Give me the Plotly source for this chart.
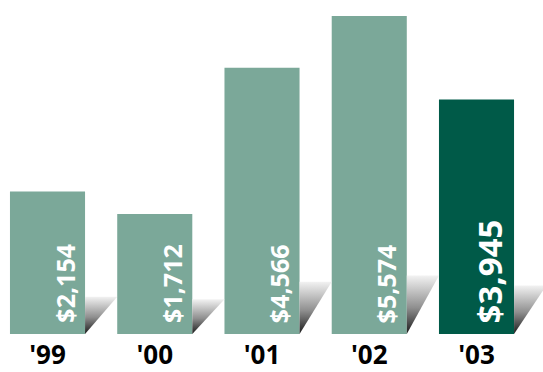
import plotly.graph_objects as go

# ---- data ----
categories = ["'99", "'00", "'01", "'02", "'03"]
values = [2154, 1712, 4566, 5574, 3945]
value_labels = ["$2,154", "$1,712", "$4,566", "$5,574", "$3,945"]

# ---- style ----
LIGHT = "#7ba899"
DARK = "#005a48"
bar_colors = [LIGHT, LIGHT, LIGHT, LIGHT, DARK]
FLOOR = -626          # axis floor (bars drawn from here)
TOP = 5887
HALF_W = 0.35         # half bar width in category units

fig = go.Figure()

# shadows (decorative gradient triangles right of each bar)
for i, v in enumerate(values):
    sh = 0.12 * v + 470
    x0 = i + HALF_W
    x1 = i + 1 - HALF_W
    fig.add_trace(go.Scatter(
        x=[x0, x0, x1, x0], y=[FLOOR, FLOOR + sh, FLOOR + sh, FLOOR],
        mode="lines", line=dict(width=0), fill="toself",
        fillgradient=dict(type="vertical",
                          colorscale=[[0, "#1a1a1a"], [0.45, "#8f8f8f"], [1, "#f2f2f2"]]),
        hoverinfo="skip", showlegend=False))

fig.add_trace(go.Bar(
    x=list(range(len(values))),
    y=[v - FLOOR for v in values],
    base=FLOOR,
    width=2 * HALF_W,
    marker=dict(color=bar_colors, line=dict(width=0)),
    hovertext=value_labels, hoverinfo="text",
    showlegend=False))

for i, lab in enumerate(value_labels):
    big = i == len(value_labels) - 1
    fig.add_annotation(
        x=i + (0.155 if not big else 0.12), y=FLOOR,
        xref="x", yref="y",
        text=lab, textangle=-90, showarrow=False,
        xanchor="center", yanchor="bottom", yshift=9,
        font=dict(family="Open Sans", size=33 if big else 25, color="white", weight=700))

fig.update_layout(
    width=543, height=372,
    margin=dict(l=0, r=0, t=0, b=34),
    paper_bgcolor="white", plot_bgcolor="white",
    xaxis=dict(range=[-0.443, 4.62], tickmode="array",
               tickvals=list(range(len(categories))), ticktext=categories,
               showgrid=False, zeroline=False, showline=False, ticks="",
               tickfont=dict(family="Open Sans", size=26, color="black", weight=700),
               ticklabelstandoff=3),
    yaxis=dict(range=[FLOOR, TOP], visible=False, showgrid=False, zeroline=False),
)

fig.write_html("out.html")
